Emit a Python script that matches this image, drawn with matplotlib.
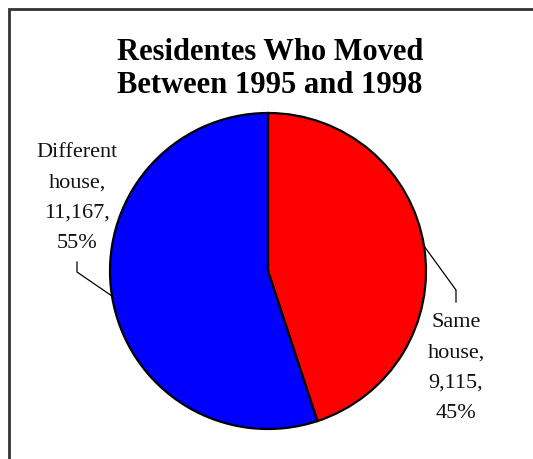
import numpy as np
import matplotlib
matplotlib.use("Agg")
import matplotlib.pyplot as plt
from matplotlib.patches import Rectangle

# -- data ---------------------------------------------------------------------
categories = ["Same\nhouse", "Different\nhouse"]
movers = [9115, 11167]
colors = ["#ff0000", "#0000ff"]
title = "Residentes Who Moved\nBetween 1995 and 1998"

W, H = 533, 459
plt.rcParams["font.family"] = ["Liberation Serif", "DejaVu Serif"]

fig = plt.figure(figsize=(W / 100, H / 100), dpi=100)

# chart frame (runs off the right and bottom edges)
fig.patches.append(Rectangle((8.5 / W, -0.05), 1.2, (H - 9.5) / H + 0.05,
                             transform=fig.transFigure, fill=False,
                             edgecolor="#333333", linewidth=2))

fig.text(270 / W, 1 - 69 / H, title, ha="center", va="center",
         fontsize=22, fontweight="bold", linespacing=1.17)

# pie: centre (268, 271) px, radius 158 px
cx, cy, r = 268, 271, 158
ax = fig.add_axes([(cx - r) / W, (H - cy - r) / H, 2 * r / W, 2 * r / H])
wedges, _ = ax.pie(movers, colors=colors, startangle=90, counterclock=False,
                   radius=1.0,
                   wedgeprops=dict(edgecolor="black", linewidth=1.6))
ax.set_xlim(-1, 1)
ax.set_ylim(-1, 1)
ax.set_aspect("equal")
ax.axis("off")

total = sum(movers)
# leader elbow and stub end, in units of the pie radius
elbows = [((456 - cx) / r, (cy - 290) / r), ((77 - cx) / r, (cy - 272) / r)]
stubs = [(cy - 302) / r, (cy - 262) / r]
for w, cat, val, (ex, ey), sy in zip(wedges, categories, movers, elbows, stubs):
    mid = np.deg2rad((w.theta1 + w.theta2) / 2)
    px, py = np.cos(mid), np.sin(mid)
    ax.plot([px, ex, ex], [py, ey, sy], color="black", linewidth=0.9,
            clip_on=False)
    label = f"{cat},\n{val:,},\n{val / total:.0%}"
    va = "top" if sy < ey else "bottom"
    off = -0.07 if va == "top" else 0.06
    ax.text(ex, sy + off, label, ha="center", va=va, fontsize=16,
            linespacing=1.8, color="#111111")

fig.savefig("out.png", dpi=100)
